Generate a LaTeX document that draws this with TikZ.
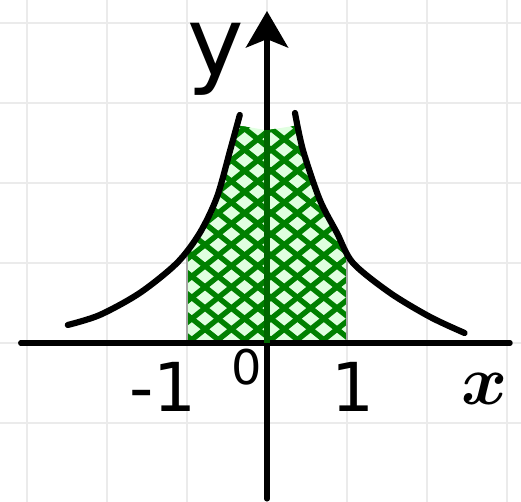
\documentclass[tikz,border=0pt]{standalone}
\usepackage{amsmath}
\usepackage{fontspec}
\setmainfont{DejaVu Sans}
\usetikzlibrary{arrows.meta}
\begin{document}
\begin{tikzpicture}[x=1cm,y=1cm,
 gridline/.style={line width=1pt, draw=black!8},
 axisline/.style={line width=1.8pt, line cap=round},
 curveline/.style={line width=2.2pt, line cap=round},
 hatchline/.style={line width=1.9pt, draw=green!50!black},
 edgeline/.style={line width=1pt, draw=gray!70},
 lbl/.style={inner sep=0pt, font=\fontsize{24}{24}\selectfont}]
\useasboundingbox (-3.3375,-1.9875) rectangle (3.175,4.2875);
\fill[white] (-3.3375,-1.9875) rectangle (3.175,4.2875);
\foreach \i in {-3,...,3} \draw[gridline] (\i,-1.9875) -- (\i,4.2875);
\foreach \j in {-2,...,4} \draw[gridline] (-3.3375,\j) -- (3.175,\j);
% shaded region
\def\regionpath{(-1,0) -- plot[smooth] coordinates {(-1,1.07) (-0.84,1.375) (-0.625,1.825) (-0.46,2.41) (-0.37,2.72)} -- (0,2.66) -- plot[smooth] coordinates {(0.38,2.72) (0.45,2.41) (0.66,1.79) (0.875,1.375) (1,1.12)} -- (1,0) -- cycle}
\fill[green!12] \regionpath;
\begin{scope}
\clip \regionpath;
\foreach \k in {-20,...,20} {
  \draw[hatchline] (\k*0.33,0) ++(-4,-3.2) -- ++(8,6.4);
  \draw[hatchline] (\k*0.33+0.1,0) ++(-4,3.2) -- ++(8,-6.4);
}
\end{scope}
\draw[edgeline] (-1,0) -- (-1,1.07);
\draw[edgeline] (1,0) -- (1,1.12);
% curve
\draw[curveline] plot[smooth] coordinates {(-2.49,0.225) (-2.09,0.35) (-1.59,0.625) (-1.125,1.0) (-0.84,1.375) (-0.625,1.825) (-0.46,2.41) (-0.34,2.85)};
\draw[curveline] plot[smooth] coordinates {(0.35,2.875) (0.45,2.41) (0.66,1.79) (0.875,1.375) (1.075,1.0) (1.54,0.625) (2.04,0.325) (2.47,0.125)};
% axes
\coordinate (xl) at (-3.08,0);
\coordinate (xr) at (3.04,0);
\coordinate (yb) at (0,-1.95);
\coordinate (yt) at (0,4.15);
\coordinate (gt) at (0,2.66);
\coordinate (o) at (0,0);
\draw[axisline] (xl) -- (xr);
\draw[axisline, -{Stealth[length=13pt,width=15pt,inset=3pt]}] (yb) -- (yt);
\draw[axisline, green!40!black, line cap=butt] (o) -- (gt);
% labels
\node[lbl, font=\fontsize{34}{34}\selectfont] (ylab) at (-0.64,3.55) {y};
\node[inner sep=0pt, font=\fontsize{38}{38}\selectfont] (xlab) at (2.72,-0.58) {$\boldsymbol{x}$};
\node[lbl] (m1) at (-1.3,-0.55) {-1};
\node[lbl] (p1) at (1.07,-0.55) {1};
\node[lbl, font=\fontsize{17}{17}\selectfont] (zero) at (-0.25,-0.3) {0};
\end{tikzpicture}
\end{document}
